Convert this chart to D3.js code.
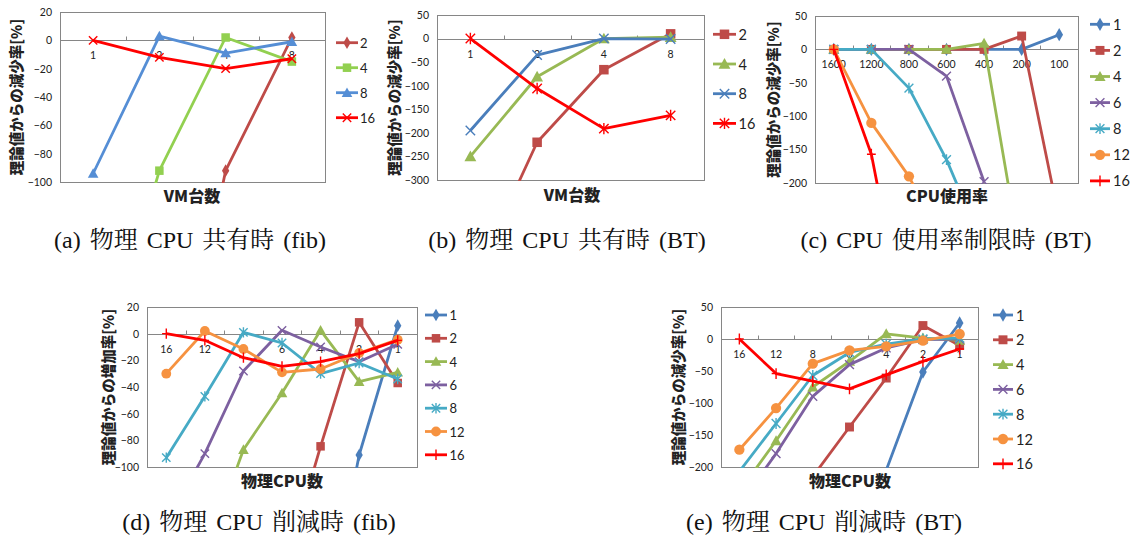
<!DOCTYPE html>
<html><head><meta charset="utf-8">
<script src="https://cdn.jsdelivr.net/npm/d3@7"></script>
<style>body{margin:0;background:#fff} svg{display:block}</style>
</head><body><svg id="c" width="1134" height="543"></svg>
<script>
// ---------- DATA ----------
// (a) 物理 CPU 共有時 (fib)
const aCategories = ["1","2","4","8"];
const aSeriesNames = ["2","4","8","16"];
const aVals2  = [null, -320, -92, 2];
const aVals4  = [-251, -92, 2, -15];
const aVals8  = [-94, 3, -9, -1];
const aVals16 = [0, -12, -20, -13];
const aYTicks = [20, 0, -20, -40, -60, -80, -100];

// (b) 物理 CPU 共有時 (BT)
const bCategories = ["1","2","4","8"];
const bSeriesNames = ["2","4","8","16"];
const bVals2  = [-527, -220, -66, 10];
const bVals4  = [-250, -81, 0, 3];
const bVals8  = [-195, -35, 0, -1];
const bVals16 = [0, -106, -191, -163];
const bYTicks = [50, 0, -50, -100, -150, -200, -250, -300];

// (c) CPU 使用率制限時 (BT)
const cCategories = ["1600","1200","800","600","400","200","100"];
const cSeriesNames = ["1","2","4","6","8","12","16"];
const cVals1  = [0, 0, 0, 0, 0, 0, 22];
const cVals2  = [0, 0, 0, 0, 0, 20, -254];
const cVals4  = [0, 0, 0, 0, 9, -319, null];
const cVals6  = [0, 0, 0, -40, -198, null, null];
const cVals8  = [0, 0, -58, -165, -297, null, null];
const cVals12 = [0, -110, -190, -301, null, null, null];
const cVals16 = [0, -157, -444, null, null, null, null];
const cYTicks = [50, 0, -50, -100, -150, -200];

// (d) 物理 CPU 削減時 (fib)
const dCategories = ["16","12","8","6","4","2","1"];
const dSeriesNames = ["1","2","4","6","8","12","16"];
const dVals1  = [null, null, null, null, -242, -91, 6];
const dVals2  = [null, null, null, -184, -84.5, 8.5, -37];
const dVals4  = [null, -167, -87, -44.5, 2.5, -36, -29];
const dVals6  = [-142, -90, -28, 2.5, -10, -21, -8];
const dVals8  = [-93, -47, 1, -7, -30, -22, -34];
const dVals12 = [-30, 2, -11.5, -29, -26.5, -14.5, -4.5];
const dVals16 = [0, -5, -18, -24.5, -21, -15, -5];
const dYTicks = [20, 0, -20, -40, -60, -80, -100];

// (e) 物理 CPU 削減時 (BT)
const eCategories = ["16","12","8","6","4","2","1"];
const eSeriesNames = ["1","2","4","6","8","12","16"];
const eVals1  = [null, null, null, null, -205, -51.6, 25];
const eVals2  = [null, null, -215, -137.5, -61, 21, -10];
const eVals4  = [-238, -159, -75, -35, 8, 1.5, -2];
const eVals6  = [-259, -179, -89.6, -40, -14, -1, 0];
const eVals8  = [-207, -132, -57, -21, -8, 0, 1.5];
const eVals12 = [-173, -108, -38.5, -17.7, -11.5, -2.6, 7.8];
const eVals16 = [0, -54, -66, -78, -56, -35, -15.6];
const eYTicks = [50, 0, -50, -100, -150, -200];

// ---------- STYLE ----------
const COL = {blue:"#4A7EBB", dred:"#BE4B48", green:"#98B954", lime:"#92D050", purple:"#7D60A0", teal:"#46AAC5", orange:"#F69240", red:"#FF0000"};
const NUMFONT = "Lato, 'Open Sans', 'Noto Sans', sans-serif";
const JPFONT = "'Noto Sans CJK JP', sans-serif";
const CAPFONT = "'Liberation Serif', 'Noto Serif CJK JP', 'Noto Sans CJK JP', serif";

const svg = d3.select("#c");
svg.append("rect").attr("width",1134).attr("height",543).attr("fill","#fff");

function marker(g, type, cx, cy, color, s) {
  s = s || 1;
  const m = g.append("g").attr("transform", `translate(${cx},${cy})`);
  if (type === "diamond") {
    m.append("path").attr("d", d3.symbol(d3.symbolDiamond, 46*s*s)()).attr("fill", color);
  } else if (type === "square") {
    const w = 8.5*s;
    m.append("rect").attr("x",-w/2).attr("y",-w/2).attr("width",w).attr("height",w).attr("fill",color);
  } else if (type === "triangle") {
    const r = 5.3*s;
    m.append("path").attr("d", `M0,${-r}L${r},${r*0.8}L${-r},${r*0.8}Z`).attr("fill", color);
  } else if (type === "circle") {
    m.append("circle").attr("r", 4.9*s).attr("fill", color);
  } else {
    const r = 4.2*s;
    const p = d3.path();
    if (type === "x" || type === "asterisk") { p.moveTo(-r,-r); p.lineTo(r,r); p.moveTo(-r,r); p.lineTo(r,-r); }
    if (type === "asterisk") { p.moveTo(0,-r-1); p.lineTo(0,r+1); }
    if (type === "plus") { p.moveTo(0,-r-1); p.lineTo(0,r+1); p.moveTo(-r,0); p.lineTo(r,0); }
    m.append("path").attr("d", p.toString()).attr("stroke", color).attr("stroke-width", 1.4).attr("fill","none");
  }
}

let clipId = 0;
function drawChart(cfg) {
  const g = svg.append("g");
  const L = cfg.left, T = cfg.top, W = cfg.width, Hh = cfg.height;
  const x = d3.scaleBand().domain(cfg.categories).range([L, L+W]);
  const y = d3.scaleLinear().domain(cfg.yDomain).range([T+Hh, T]);
  const bw = x.bandwidth();

  // frame
  g.append("rect").attr("x",L+0.5).attr("y",T+0.5).attr("width",W).attr("height",Hh)
    .attr("fill","none").attr("stroke","#868686").attr("stroke-width",1);

  // y axis labels
  const ya = g.append("g").attr("transform",`translate(${L},0)`)
    .call(d3.axisLeft(y).tickValues(cfg.yTicks).tickSize(0).tickPadding(cfg.yPad || 8));
  ya.select(".domain").remove();
  ya.selectAll("text").attr("font-family",NUMFONT).attr("font-size",10.5).attr("fill","#222");

  // zero line
  const y0 = Math.round(y(0)) + 0.5;
  g.append("line").attr("x1",L).attr("x2",L+W).attr("y1",y0).attr("y2",y0)
    .attr("stroke","#868686").attr("stroke-width",1);
  cfg.categories.slice(1).forEach(c => {
    const xx = Math.round(x(c)) + 0.5;
    g.append("line").attr("x1",xx).attr("x2",xx).attr("y1",y0-4).attr("y2",y0)
      .attr("stroke","#868686").attr("stroke-width",1);
  });
  // x labels
  cfg.categories.forEach(c => {
    g.append("text").attr("x", x(c)+bw/2).attr("y", y(0)+15)
      .attr("text-anchor","middle").attr("dominant-baseline","central")
      .attr("font-family",NUMFONT).attr("font-size",10.5).attr("fill","#222").text(c);
  });

  // clip
  const id = "clip" + (clipId++);
  svg.append("clipPath").attr("id", id).append("rect")
    .attr("x",L).attr("y",T).attr("width",W+1).attr("height",Hh+1);

  const line = d3.line().defined(d => d.v !== null)
    .x(d => x(d.c) + bw/2).y(d => y(d.v));
  const lg = g.append("g").attr("clip-path", `url(#${id})`);
  cfg.series.forEach(s => {
    const pts = cfg.categories.map((c,i) => ({c, v: s.values[i]}));
    const sg = lg.append("g");
    sg.append("path").attr("d", line(pts)).attr("fill","none")
      .attr("stroke", s.color).attr("stroke-width", 2.8).attr("stroke-linejoin","round");
    pts.forEach(p => {
      if (p.v === null) return;
      if (p.v < cfg.yDomain[0] - 2 || p.v > cfg.yDomain[1]) return;
      marker(sg, s.marker, x(p.c)+bw/2, y(p.v), s.color, cfg.ms);
    });
  });

  // legend
  cfg.series.forEach((s,i) => {
    const ly = cfg.legend.y0 + i*cfg.legend.dy;
    g.append("line").attr("x1",cfg.legend.x1).attr("x2",cfg.legend.x2).attr("y1",ly).attr("y2",ly)
      .attr("stroke",s.color).attr("stroke-width",2.8);
    marker(g, s.marker, (cfg.legend.x1+cfg.legend.x2)/2, ly, s.color, cfg.ms);
    g.append("text").attr("x",cfg.legend.tx).attr("y",ly).attr("dominant-baseline","central")
      .attr("font-family",NUMFONT).attr("font-size",cfg.legend.fs).attr("fill","#222").text(s.name);
  });

  // axis titles
  g.append("text").attr("transform",`translate(${cfg.yTitleX},${T+Hh/2}) rotate(-90)`)
    .attr("text-anchor","middle").attr("dominant-baseline","central")
    .attr("font-family",JPFONT).attr("font-weight","900").attr("font-size",14.5).attr("fill","#222")
    .text(cfg.yTitle);
  g.append("text").attr("x",cfg.xTitleX).attr("y",cfg.xTitleY)
    .attr("text-anchor","middle").attr("dominant-baseline","central")
    .attr("font-family",JPFONT).attr("font-weight","900").attr("font-size",16).attr("fill","#222")
    .text(cfg.xTitle);
  // caption
  g.append("text").attr("x",cfg.capX).attr("y",cfg.capY)
    .attr("text-anchor","middle").attr("dominant-baseline","central")
    .attr("font-family",CAPFONT).attr("font-size",24).attr("word-spacing",3).attr("fill","#111")
    .text(cfg.caption);
}

function build(names, vals, colors, markers) {
  return names.map((n,i) => ({name:n, values:vals[i], color:colors[i], marker:markers[i]}));
}
const mk7 = ["diamond","square","triangle","x","asterisk","circle","plus"];
const col7 = [COL.blue, COL.dred, COL.green, COL.purple, COL.teal, COL.orange, COL.red];

drawChart({
  left:60, top:12, width:265, height:170, yDomain:[-100,20], yTicks:aYTicks,
  categories:aCategories,
  series: build(aSeriesNames, [aVals2,aVals4,aVals8,aVals16], [COL.dred, COL.lime, "#558ED5", COL.red], ["diamond","square","triangle","x"]),
  legend:{x1:336, x2:358, tx:360, y0:42.7, dy:25, fs:13},
  yTitle:"理論値からの減少率[%]", yTitleX:15, xTitle:"VM台数", xTitleX:192, xTitleY:195,
  caption:"(a) 物理 CPU 共有時 (fib)", capX:190, capY:240, ms:1
});
drawChart({
  left:437, top:15, width:267, height:165, yDomain:[-300,50], yTicks:bYTicks,
  categories:bCategories,
  series: build(bSeriesNames, [bVals2,bVals4,bVals8,bVals16], [COL.dred, COL.green, COL.blue, COL.red], ["square","triangle","x","asterisk"]),
  legend:{x1:713, x2:736, tx:738.5, y0:34.3, dy:29.7, fs:14.5},
  yTitle:"理論値からの減少率[%]", yTitleX:393, xTitle:"VM台数", xTitleX:572, xTitleY:193.5,
  caption:"(b) 物理 CPU 共有時 (BT)", capX:567, capY:240, ms:1.12
});
drawChart({
  left:815, top:16, width:263, height:167, yDomain:[-200,50], yTicks:cYTicks,
  categories:cCategories,
  series: build(cSeriesNames, [cVals1,cVals2,cVals4,cVals6,cVals8,cVals12,cVals16], col7, mk7),
  legend:{x1:1090, x2:1110, tx:1113, y0:24.3, dy:26.1, fs:14.5},
  yTitle:"理論値からの減少率[%]", yTitleX:772, xTitle:"CPU使用率", xTitleX:947, xTitleY:195,
  caption:"(c) CPU 使用率制限時 (BT)", capX:946, capY:240, ms:1.05
});
drawChart({
  left:147, top:307, width:270, height:160, yDomain:[-100,20], yTicks:dYTicks,
  categories:dCategories,
  series: build(dSeriesNames, [dVals1,dVals2,dVals4,dVals6,dVals8,dVals12,dVals16], col7, mk7),
  legend:{x1:425, x2:447, tx:449.5, y0:315, dy:23.3, fs:13},
  yTitle:"理論値からの増加率[%]", yTitleX:107, xTitle:"物理CPU数", xTitleX:282, xTitleY:480,
  caption:"(d) 物理 CPU 削減時 (fib)", capX:259, capY:522, ms:1
});
drawChart({
  left:721, top:307, width:257, height:160, yDomain:[-200,50], yTicks:eYTicks,
  categories:eCategories,
  series: build(eSeriesNames, [eVals1,eVals2,eVals4,eVals6,eVals8,eVals12,eVals16], col7, mk7),
  legend:{x1:993, x2:1013, tx:1016, y0:315, dy:24.8, fs:14.5},
  yTitle:"理論値からの減少率[%]", yTitleX:677, xTitle:"物理CPU数", xTitleX:850, xTitleY:480,
  caption:"(e) 物理 CPU 削減時 (BT)", capX:824, capY:522, ms:1.05
});
</script></body></html>
